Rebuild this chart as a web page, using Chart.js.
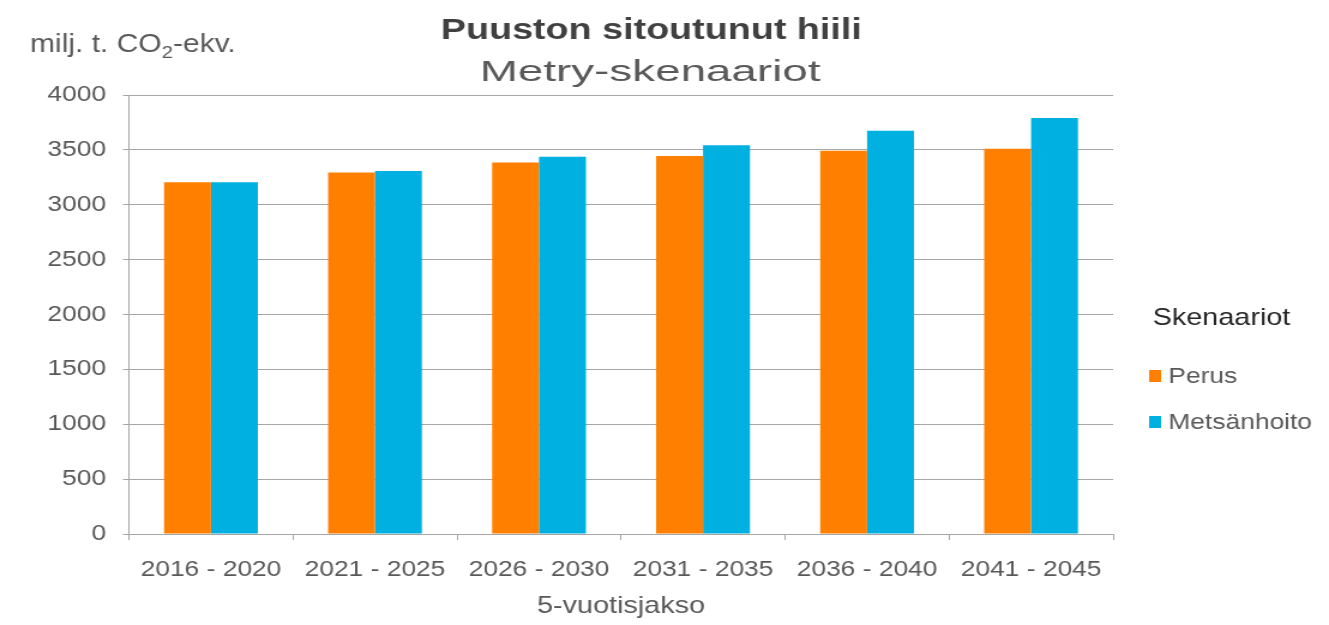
<!DOCTYPE html>
<html>
<head>
<meta charset="utf-8">
<script src="https://cdn.jsdelivr.net/npm/chart.js@4.4.1/dist/chart.umd.min.js"></script>
<style>
  html, body { margin: 0; padding: 0; background: #fff; }
</style>
</head>
<body>
<!-- el original está estirado en horizontal, así que se estira el lienzo -->
<canvas id="chart" width="1108" height="625" style="display:block;width:1329px;height:625px"></canvas>
<script>
// --- DATOS ---
const periods = ['2016 - 2020', '2021 - 2025', '2026 - 2030', '2031 - 2035', '2036 - 2040', '2041 - 2045'];
const perus = [3205, 3293, 3384, 3445, 3493, 3511];
const metsanhoito = [3205, 3308, 3438, 3542, 3675, 3791];
const seriesNames = ['Perus', 'Metsänhoito'];
const seriesColors = ['#FF8000', '#00B0E0'];
const yMin = 0, yMax = 4000, yStep = 500;

const FONT = '"Liberation Sans", Arial, sans-serif';
const GREY = '#595959';
const GRID = '#A6A6A6';

// texto con ancho fijo (escala horizontal)
function fitText(ctx, text, x, y, width, align) {
    const w = ctx.measureText(text).width;
    const sx = width / w;
    ctx.save();
    ctx.textAlign = 'left';
    let left = x;
    if (align === 'center') left = x - width / 2;
    ctx.translate(left, y);
    ctx.scale(sx, 1);
    ctx.fillText(text, 0, 0);
    ctx.restore();
}

// textos fuera del área del gráfico + leyenda
const decorations = {
    id: 'decorations',
    afterDraw(chart) {
        const ctx = chart.ctx;
        ctx.save();
        ctx.textBaseline = 'alphabetic';

        // título
        ctx.fillStyle = '#404040';
        ctx.font = 'bold 29px ' + FONT;
        fitText(ctx, 'Puuston sitoutunut hiili', 543, 39, 351, 'center');
        ctx.fillStyle = GREY;
        ctx.font = '29px ' + FONT;
        fitText(ctx, 'Metry-skenaariot', 542, 81, 284, 'center');

        // unidad eje y (con subíndice)
        ctx.textAlign = 'left';
        ctx.font = '25px ' + FONT;
        let x = 25;
        const base = 52;
        ctx.fillText('milj. t. CO', x, base);
        x += ctx.measureText('milj. t. CO').width;
        ctx.font = '17px ' + FONT;
        ctx.fillText('2', x, base + 6);
        x += ctx.measureText('2').width;
        ctx.font = '25px ' + FONT;
        ctx.fillText('-ekv.', x, base);

        // título eje x
        ctx.textAlign = 'center';
        ctx.font = '24px ' + FONT;
        const area = chart.chartArea;
        ctx.fillText('5-vuotisjakso', (area.left + area.right) / 2, 613);

        // leyenda
        ctx.textAlign = 'left';
        ctx.fillStyle = '#262626';
        ctx.font = '24px ' + FONT;
        ctx.fillText('Skenaariot', 961, 325);
        ctx.font = '22px ' + FONT;
        chart.data.datasets.forEach((ds, i) => {
            const y = 383 + i * 46;
            ctx.fillStyle = ds.backgroundColor;
            ctx.fillRect(958, y - 13, 10, 12);
            ctx.fillStyle = GREY;
            ctx.fillText(ds.label, 974, y);
        });
        ctx.restore();
    }
};

new Chart(document.getElementById('chart'), {
    type: 'bar',
    data: {
        labels: periods,
        datasets: [
            { label: seriesNames[0], data: perus, backgroundColor: seriesColors[0] },
            { label: seriesNames[1], data: metsanhoito, backgroundColor: seriesColors[1] }
        ]
    },
    options: {
        responsive: false,
        animation: false,
        devicePixelRatio: 1,
        layout: { padding: { top: 95, right: 180, left: 0, bottom: 0 } },
        datasets: { bar: { categoryPercentage: 0.572, barPercentage: 1.0, borderWidth: 0 } },
        plugins: {
            legend: { display: false },
            title: { display: false },
            tooltip: { enabled: false }
        },
        scales: {
            x: {
                afterFit: s => { s.height = 91; },
                grid: { drawOnChartArea: false, drawTicks: true, tickLength: 6, color: GRID, offset: true },
                border: { display: true, color: GRID, width: 1 },
                ticks: { color: GREY, font: { family: FONT, size: 22 }, padding: 17, maxRotation: 0 }
            },
            y: {
                min: yMin,
                max: yMax,
                afterFit: s => { s.width = 107.5; },
                grid: { color: GRID, tickLength: 5, drawTicks: true },
                border: { display: true, color: GRID, width: 1 },
                ticks: { stepSize: yStep, color: GREY, font: { family: FONT, size: 22 }, padding: 14,
                         callback: v => String(v) }
            }
        }
    },
    plugins: [decorations]
});
</script>
</body>
</html>
